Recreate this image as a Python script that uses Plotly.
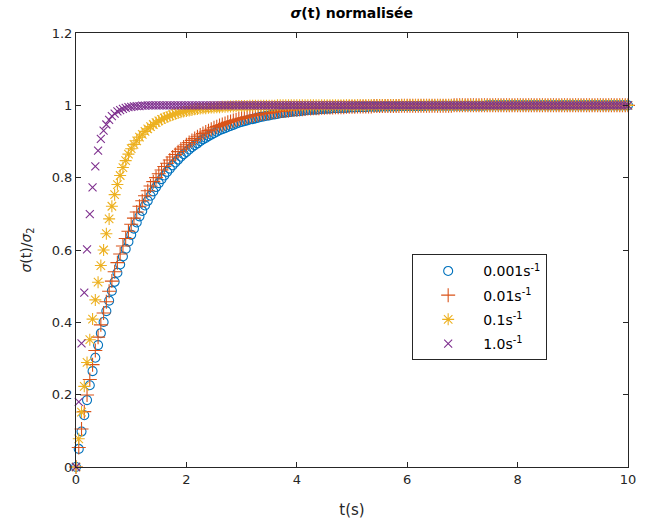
import numpy as np
import plotly.graph_objects as go

# time grid (s)
t = np.round(np.linspace(0, 10, 201), 2)

labels = ["0.001s<sup>-1</sup>", "0.01s<sup>-1</sup>", "0.1s<sup>-1</sup>", "1.0s<sup>-1</sup>"]

y_0001 = [
    0, 0.05, 0.098, 0.143, 0.185, 0.226, 0.265, 0.302, 0.337, 0.370,
    0.401, 0.431, 0.460, 0.487, 0.512, 0.537, 0.560, 0.582, 0.603, 0.623,
    0.642, 0.659, 0.676, 0.693, 0.708, 0.723, 0.736, 0.750, 0.762, 0.774,
    0.785, 0.796, 0.806, 0.816, 0.825, 0.834, 0.842, 0.850, 0.858, 0.865,
    0.871, 0.878, 0.884, 0.890, 0.895, 0.901, 0.906, 0.910, 0.915, 0.919,
    0.923, 0.927, 0.931, 0.934, 0.937, 0.940, 0.943, 0.946, 0.949, 0.952,
    0.954, 0.956, 0.958, 0.961, 0.962, 0.964, 0.966, 0.968, 0.969, 0.971,
    0.972, 0.974, 0.975, 0.976, 0.978, 0.979, 0.980, 0.981, 0.982, 0.983,
    0.983, 0.984, 0.985, 0.986, 0.987, 0.987, 0.988, 0.988, 0.989, 0.990,
    0.990, 0.991, 0.991, 0.992, 0.992, 0.992, 0.993, 0.993, 0.993, 0.994,
    0.994, 0.994, 0.995, 0.995, 0.995, 0.995, 0.996, 0.996, 0.996, 0.996,
    0.996, 0.997, 0.997, 0.997, 0.997, 0.997, 0.997, 0.998, 0.998, 0.998,
    0.998, 0.998, 0.998, 0.998, 0.998, 0.998, 0.998, 0.999, 0.999, 0.999,
    0.999, 0.999, 0.999, 0.999, 0.999, 0.999, 0.999, 0.999, 0.999, 0.999,
    0.999, 0.999, 0.999, 0.999, 0.999, 0.999, 0.999, 0.999, 0.999, 1,
    1, 1, 1, 1, 1, 1, 1, 1, 1, 1,
    1, 1, 1, 1, 1, 1, 1, 1, 1, 1,
    1, 1, 1, 1, 1, 1, 1, 1, 1, 1,
    1, 1, 1, 1, 1, 1, 1, 1, 1, 1,
    1, 1, 1, 1, 1, 1, 1, 1, 1, 1,
    1,
]

y_001 = [
    0, 0.054, 0.105, 0.153, 0.199, 0.242, 0.283, 0.322, 0.359, 0.393,
    0.426, 0.457, 0.486, 0.514, 0.540, 0.565, 0.589, 0.611, 0.632, 0.652,
    0.671, 0.688, 0.705, 0.721, 0.736, 0.750, 0.764, 0.777, 0.789, 0.800,
    0.811, 0.821, 0.831, 0.840, 0.849, 0.857, 0.864, 0.872, 0.879, 0.885,
    0.891, 0.897, 0.903, 0.908, 0.913, 0.918, 0.922, 0.926, 0.930, 0.934,
    0.938, 0.941, 0.944, 0.947, 0.950, 0.953, 0.955, 0.958, 0.960, 0.962,
    0.964, 0.966, 0.968, 0.970, 0.971, 0.973, 0.974, 0.976, 0.977, 0.978,
    0.979, 0.981, 0.982, 0.983, 0.984, 0.984, 0.985, 0.986, 0.987, 0.988,
    0.988, 0.989, 0.989, 0.990, 0.991, 0.991, 0.992, 0.992, 0.992, 0.993,
    0.993, 0.994, 0.994, 0.994, 0.995, 0.995, 0.995, 0.995, 0.996, 0.996,
    0.996, 0.996, 0.997, 0.997, 0.997, 0.997, 0.997, 0.997, 0.998, 0.998,
    0.998, 0.998, 0.998, 0.998, 0.998, 0.998, 0.998, 0.998, 0.999, 0.999,
    0.999, 0.999, 0.999, 0.999, 0.999, 0.999, 0.999, 0.999, 0.999, 0.999,
    0.999, 0.999, 0.999, 0.999, 0.999, 0.999, 0.999, 1, 1, 1,
    1, 1, 1, 1, 1, 1, 1, 1, 1, 1,
    1, 1, 1, 1, 1, 1, 1, 1, 1, 1,
    1, 1, 1, 1, 1, 1, 1, 1, 1, 1,
    1, 1, 1, 1, 1, 1, 1, 1, 1, 1,
    1, 1, 1, 1, 1, 1, 1, 1, 1, 1,
    1, 1, 1, 1, 1, 1, 1, 1, 1, 1,
    1,
]

y_01 = [
    0, 0.078, 0.152, 0.223, 0.289, 0.352, 0.409, 0.462, 0.511, 0.557,
    0.600, 0.645, 0.686, 0.721, 0.753, 0.781, 0.806, 0.828, 0.847, 0.865,
    0.880, 0.892, 0.902, 0.912, 0.920, 0.928, 0.935, 0.941, 0.947, 0.952,
    0.957, 0.961, 0.965, 0.968, 0.971, 0.974, 0.977, 0.979, 0.981, 0.983,
    0.984, 0.986, 0.987, 0.989, 0.990, 0.991, 0.992, 0.992, 0.993, 0.994,
    0.994, 0.995, 0.995, 0.996, 0.996, 0.997, 0.997, 0.997, 0.998, 0.998,
    0.998, 0.998, 0.998, 0.999, 0.999, 0.999, 0.999, 0.999, 0.999, 0.999,
    0.999, 0.999, 0.999, 1, 1, 1, 1, 1, 1, 1,
    1, 1, 1, 1, 1, 1, 1, 1, 1, 1,
    1, 1, 1, 1, 1, 1, 1, 1, 1, 1,
    1, 1, 1, 1, 1, 1, 1, 1, 1, 1,
    1, 1, 1, 1, 1, 1, 1, 1, 1, 1,
    1, 1, 1, 1, 1, 1, 1, 1, 1, 1,
    1, 1, 1, 1, 1, 1, 1, 1, 1, 1,
    1, 1, 1, 1, 1, 1, 1, 1, 1, 1,
    1, 1, 1, 1, 1, 1, 1, 1, 1, 1,
    1, 1, 1, 1, 1, 1, 1, 1, 1, 1,
    1, 1, 1, 1, 1, 1, 1, 1, 1, 1,
    1, 1, 1, 1, 1, 1, 1, 1, 1, 1,
    1, 1, 1, 1, 1, 1, 1, 1, 1, 1,
    1,
]

y_1 = [
    0, 0.18, 0.342, 0.482, 0.602, 0.699, 0.773, 0.831, 0.875, 0.907,
    0.930, 0.947, 0.960, 0.970, 0.977, 0.983, 0.987, 0.990, 0.993, 0.995,
    0.996, 0.997, 0.998, 0.998, 0.999, 0.999, 1, 1, 1, 1,
    1, 1, 1, 1, 1, 1, 1, 1, 1, 1,
    1, 1, 1, 1, 1, 1, 1, 1, 1, 1,
    1, 1, 1, 1, 1, 1, 1, 1, 1, 1,
    1, 1, 1, 1, 1, 1, 1, 1, 1, 1,
    1, 1, 1, 1, 1, 1, 1, 1, 1, 1,
    1, 1, 1, 1, 1, 1, 1, 1, 1, 1,
    1, 1, 1, 1, 1, 1, 1, 1, 1, 1,
    1, 1, 1, 1, 1, 1, 1, 1, 1, 1,
    1, 1, 1, 1, 1, 1, 1, 1, 1, 1,
    1, 1, 1, 1, 1, 1, 1, 1, 1, 1,
    1, 1, 1, 1, 1, 1, 1, 1, 1, 1,
    1, 1, 1, 1, 1, 1, 1, 1, 1, 1,
    1, 1, 1, 1, 1, 1, 1, 1, 1, 1,
    1, 1, 1, 1, 1, 1, 1, 1, 1, 1,
    1, 1, 1, 1, 1, 1, 1, 1, 1, 1,
    1, 1, 1, 1, 1, 1, 1, 1, 1, 1,
    1, 1, 1, 1, 1, 1, 1, 1, 1, 1,
    1,
]

for arr in (y_0001, y_001, y_01, y_1):
    assert len(arr) == len(t), len(arr)

series = [y_0001, y_001, y_01, y_1]
colors = ["#0072BD", "#D95319", "#EDB120", "#7E2F8E"]
symbols = ["circle-open", "cross-thin-open", "asterisk-open", "x-thin-open"]
sizes = [9, 10, 10, 8]

fig = go.Figure()
for i, (ys, c, s, sz, lab) in enumerate(zip(series, colors, symbols, sizes, labels)):
    fig.add_trace(go.Scatter(
        x=t, y=ys, mode="markers", name=lab, legendgroup=f"g{i}", cliponaxis=False,
        marker=dict(symbol=s, size=sz, color=c, line=dict(width=1.1, color=c)),
    ))

axis_col = "#262626"
common = dict(
    showgrid=False, zeroline=False, showline=True, linecolor=axis_col, linewidth=1,
    mirror="ticks", ticks="inside", ticklen=5, tickcolor=axis_col, automargin=False,
    tickfont=dict(family="DejaVu Sans", size=13, color=axis_col),
)

fig.update_layout(
    width=649, height=520,
    margin=dict(l=76, r=21, t=33, b=53),
    paper_bgcolor="white", plot_bgcolor="white",
    font=dict(family="DejaVu Sans", color=axis_col),
    title=dict(text="<b><i>σ</i>(t) normalisée</b>", x=0.542, xanchor="center",
               y=0.975, yanchor="middle", font=dict(size=14, color="#000000")),
    xaxis=dict(range=[0, 10], tickvals=[0, 2, 4, 6, 8, 10],
               title=dict(text="t(s)", font=dict(size=15, color=axis_col), standoff=18),
               **common),
    yaxis=dict(range=[0, 1.2], tickvals=[0, 0.2, 0.4, 0.6, 0.8, 1, 1.2],
               ticktext=["0", "0.2", "0.4", "0.6", "0.8", "1", "1.2"],
               title=dict(text="<i>σ</i>(t)/<i>σ</i><sub>2</sub>", font=dict(size=14, color=axis_col), standoff=16),
               **common),
    legend=dict(x=0.609, y=0.49, xanchor="left", yanchor="top",
                bgcolor="white", bordercolor="#262626", borderwidth=1,
                font=dict(family="DejaVu Sans", size=14, color="#000000"),
                traceorder="grouped", tracegroupgap=3, itemwidth=60),
    showlegend=True,
)

fig.write_html("out.html")
